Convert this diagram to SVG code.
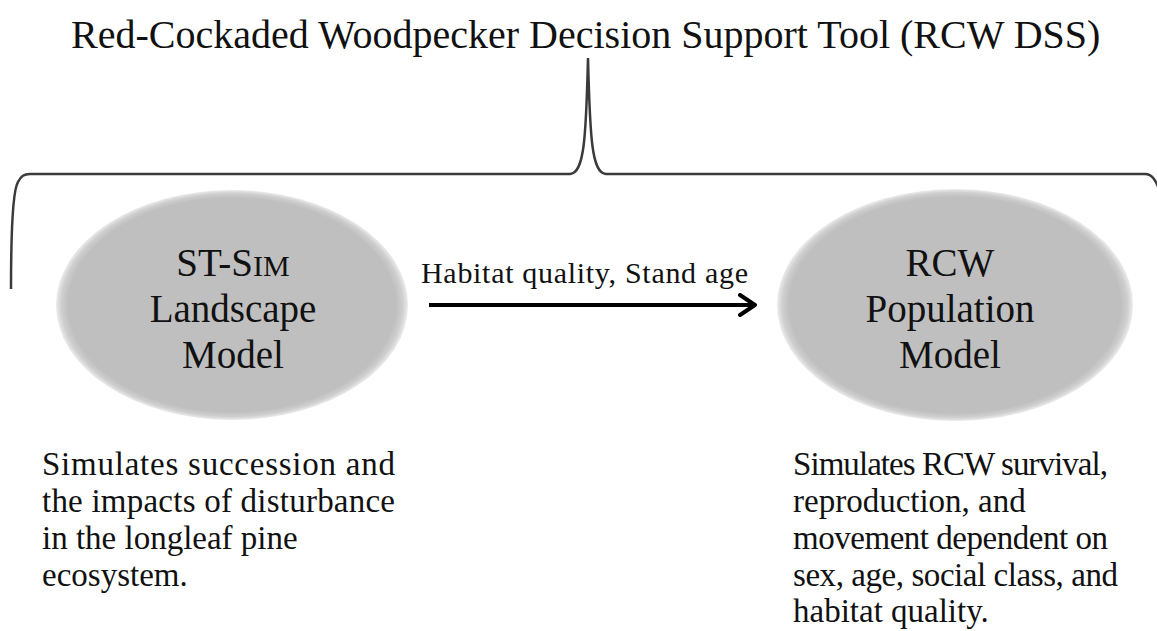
<svg xmlns="http://www.w3.org/2000/svg" width="1157" height="631" viewBox="0 0 1157 631">
<style>
text { font-family: "Liberation Serif", "Times New Roman", serif; fill: #111; }
.title { font-size: 40px; }
.node { font-size: 39px; text-anchor: middle; }
.lbl { font-size: 30px; }
.desc { font-size: 33px; }
.brace { fill: none; stroke: #3a3a3a; stroke-width: 2.5; }
.conn { fill: none; stroke: #000; stroke-width: 4; }
.ell { fill: url(#g); }
</style>
<defs>
<radialGradient id="g" cx="0.5" cy="0.5" r="0.5">
<stop offset="0.93" stop-color="#bfbfbf"/>
<stop offset="0.97" stop-color="#cfcfcf"/>
<stop offset="1" stop-color="#ececec"/>
</radialGradient>
<marker id="arr" markerUnits="userSpaceOnUse" viewBox="0 0 20 24" refX="17" refY="12" markerWidth="20" markerHeight="24" orient="auto">
<path d="M2,2 L17,12 L2,22" fill="none" stroke="#000" stroke-width="4" stroke-linecap="round" stroke-linejoin="round"/>
</marker>
</defs>
<g id="title">
<text class="title" x="71" y="48">Red-Cockaded Woodpecker Decision Support Tool (RCW DSS)</text>
</g>
<g id="brace">
<path class="brace" d="M11,289 C11,230 13,190 18,182 C21,176 24,174 30,174 L570,174 C584,173 586,140 588,58 C590,140 592,173 606,174 L1145,174 C1152,174 1156,180 1160,192"/>
</g>
<g id="node-stsim">
<ellipse class="ell" cx="232" cy="305" rx="176" ry="115"/>
<text class="node" x="233" y="276">ST-S<tspan font-size="30">IM</tspan></text>
<text class="node" x="233" y="322">Landscape</text>
<text class="node" x="233" y="368">Model</text>
</g>
<g id="node-rcw">
<ellipse class="ell" cx="955" cy="305" rx="178" ry="116"/>
<text class="node" x="950" y="276">RCW</text>
<text class="node" x="950" y="322">Population</text>
<text class="node" x="950" y="368">Model</text>
</g>
<g id="connectors">
<line class="conn" x1="429" y1="305" x2="755" y2="305" marker-end="url(#arr)"/>
<text class="lbl" x="421" y="283" textLength="327" lengthAdjust="spacing">Habitat quality, Stand age</text>
</g>
<g id="desc-left">
<text class="desc" x="42" y="475" textLength="353" lengthAdjust="spacing">Simulates succession and</text>
<text class="desc" x="42" y="512" textLength="353" lengthAdjust="spacing">the impacts of disturbance</text>
<text class="desc" x="42" y="549">in the longleaf pine</text>
<text class="desc" x="42" y="586">ecosystem.</text>
</g>
<g id="desc-right">
<text class="desc" x="793" y="475" textLength="315" lengthAdjust="spacing">Simulates RCW survival,</text>
<text class="desc" x="793" y="512">reproduction, and</text>
<text class="desc" x="793" y="549" textLength="315" lengthAdjust="spacing">movement dependent on</text>
<text class="desc" x="793" y="586" textLength="325" lengthAdjust="spacing">sex, age, social class, and</text>
<text class="desc" x="793" y="622">habitat quality.</text>
</g>
</svg>
